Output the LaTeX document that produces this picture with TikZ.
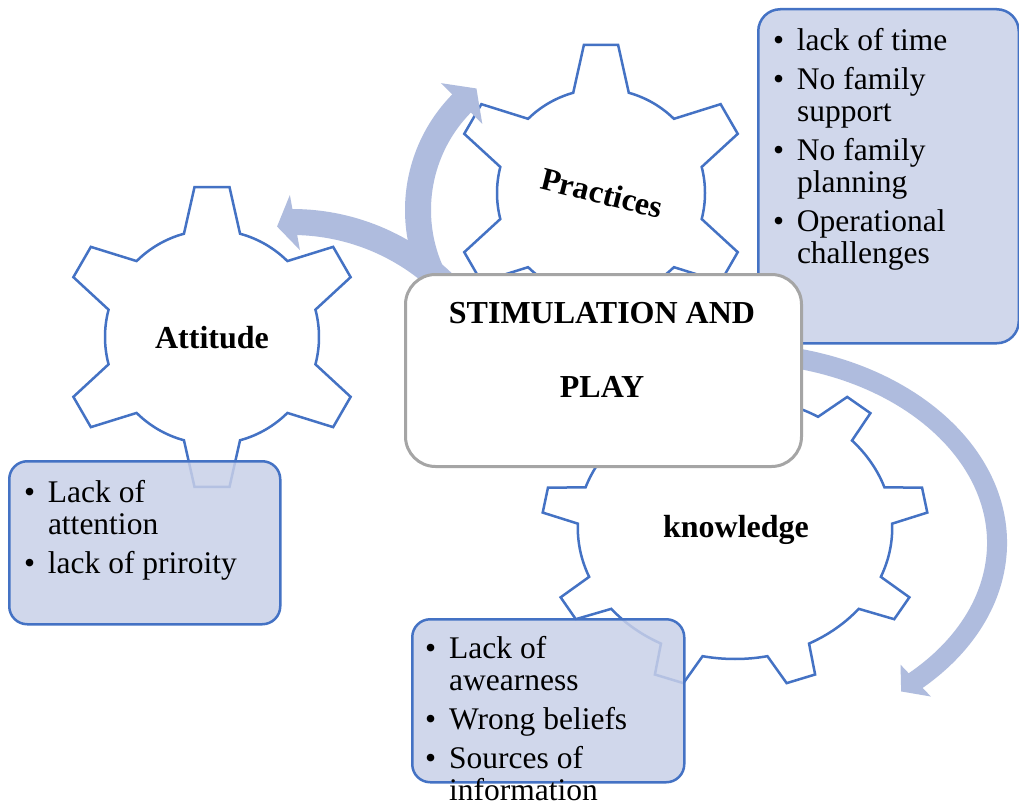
\documentclass[tikz,border=0pt]{standalone}
\usepackage{fontspec}
\setmainfont{Liberation Serif}
\usetikzlibrary{calc}

\definecolor{gearblue}{RGB}{68,114,196}
\definecolor{arrowblue}{RGB}{175,188,222}
\definecolor{listfill}{RGB}{200,208,232}
\definecolor{framegray}{RGB}{165,165,165}

% Gear outline: #1 teeth, #2 angle of first tooth, #3 body radius,
% #4 tip radius, #5 half angle of a tooth at its root, #6 half angle at its tip
\newcommand{\gearoutline}[6]{%
  (#2-#5:#3)
  \foreach \k [evaluate=\k as \p using {#2+(\k-1)*360/#1}] in {1,...,#1}{
    -- (\p-#6:#4) -- (\p+#6:#4) -- (\p+#5:#3)
    arc[start angle=\p+#5, end angle=\p+360/#1-#5, radius=#3]
  } -- cycle}

% Bulleted lines with a hanging indent
\newcommand{\bul}[1]{\par\noindent\hangindent=24pt\hangafter=1\makebox[24pt][l]{\textbullet}#1\par}
\newcommand{\itemgap}{\vspace{7pt}}
\newcommand{\bulletlist}[1]{\parbox[t]{300pt}{\fontsize{31.5}{32}\selectfont #1}}

\begin{document}
\begin{tikzpicture}[x=1pt, y=-1pt,
  gearline/.style={draw=gearblue, line width=2.5pt, fill=white},
  shaft/.style={draw=arrowblue, line width=26pt},
  tipfill/.style={fill=arrowblue},
  listbox/.style={draw=gearblue, line width=2.5pt, fill=listfill, fill opacity=0.85,
    rounded corners=18pt, inner sep=0pt, anchor=north west},
  corebox/.style={draw=framegray, line width=3pt, fill=white, rounded corners=30pt,
    inner sep=0pt, anchor=north west},
  gearlabel/.style={font=\fontsize{32}{32}\selectfont\bfseries, inner sep=0pt},
  listtext/.style={inner sep=0pt, anchor=base west}
]
\fill[white] (0,0) rectangle (1019,810);
\useasboundingbox (0,0) rectangle (1019,810);

% gears
\begin{scope}[shift={(212,337)}]
  \draw[gearline] \gearoutline{6}{30}{107}{151}{15.2}{6.65};
\end{scope}
\begin{scope}[shift={(601,193)}]
  \draw[gearline] \gearoutline{6}{30}{104}{149}{15.5}{6.6};
\end{scope}
\begin{scope}[shift={(735,528)}, xscale=1.2]
  \draw[gearline] \gearoutline{9}{-10}{131}{161}{8.1}{4.5};
\end{scope}

% circular arrows
\begin{scope}[shift={(570,210)}]
  \draw[shaft] (150:152) arc[start angle=150, end angle=226, radius=152];
  \fill[tipfill] (224.5:181) -- (224.5:123) -- (232.4:153.4) -- cycle;
\end{scope}
\begin{scope}[shift={(292,440)}]
  \draw[shaft] (318:218) arc[start angle=318, end angle=270, radius=218];
  \fill[tipfill] (269.5:245) -- (272.4:190) -- (266:214) -- cycle;
\end{scope}
\begin{scope}[shift={(735,543)}]
  \draw[shaft, line width=20pt] (280:262 and 190)
    arc[start angle=280, end angle=407.5, x radius=262, y radius=190];
  \fill[tipfill] (46.4:284 and 212) -- (46.4:240 and 168) -- (51:264 and 191) -- cycle;
\end{scope}

% lists
\node[listbox, minimum width=271pt, minimum height=163pt] (attbox) at (8,460) {};
\node[listbox, minimum width=260.5pt, minimum height=334pt, rounded corners=22pt] (pracbox) at (757,8) {};
\node[listbox, minimum width=272pt, minimum height=163pt] (knowbox) at (411,618) {};

\node[listtext] (attlist) at (23.8,502) {\bulletlist{\bul{Lack of\newline attention}\itemgap\bul{lack of priroity}}};
\node[listtext] (praclist) at (772.8,51) {\bulletlist{\bul{lack of time}\itemgap\bul{No family\newline support}\itemgap\bul{No family\newline planning}\itemgap\bul{Operational\newline challenges}}};
\node[listtext] (knowlist) at (425,658.5) {\bulletlist{\bul{Lack of\newline awearness}\itemgap\bul{Wrong beliefs}\itemgap\bul{Sources of\newline information}}};

% central box
\node[corebox, minimum width=396pt, minimum height=192pt] (core) at (404,273) {};
\node[gearlabel, anchor=base] (coretop) at (602,323) {STIMULATION AND};
\node[gearlabel, anchor=base] (corebottom) at (602,397) {PLAY};

% gear labels
\node[gearlabel, anchor=base] (attitude) at (212,348) {Attitude};
\node[gearlabel, rotate=-14] (practices) at (602,193) {Practices};
\node[gearlabel, anchor=base] (knowledge) at (736,537) {knowledge};
\end{tikzpicture}
\end{document}
